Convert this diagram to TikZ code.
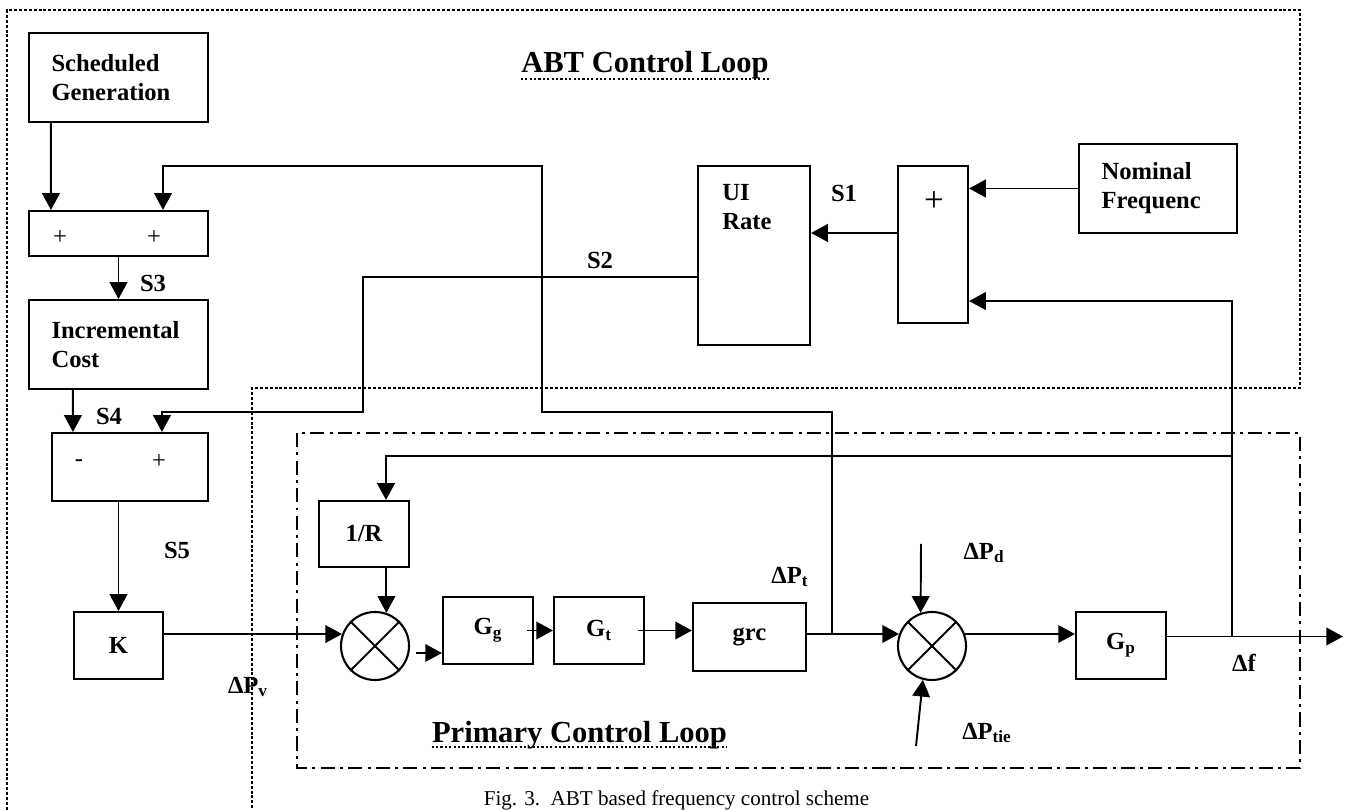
\documentclass[tikz,border=0pt]{standalone}
\usepackage{fontspec}
\setmainfont{Liberation Serif}
\usetikzlibrary{arrows.meta,calc}

\begin{document}
\begin{tikzpicture}[
        font=\bfseries\fontsize{14}{16.5}\selectfont,
        block/.style={draw=black, line width=1.2pt, inner sep=0pt, align=center},
        tblock/.style={block, align=left, inner xsep=0.45cm, text width=#1},
        sumj/.style={draw=black, circle, line width=1.2pt, minimum size=1.36cm, inner sep=0pt},
        arr/.style={line width=1.1pt, -{Triangle[length=9.5pt, width=10pt]}},
        wire/.style={line width=1.1pt},
        lbl/.style={inner sep=0pt},
        sign/.style={inner sep=0pt, font=\mdseries\fontsize{14}{16}\selectfont},
        abtzone/.style={line width=1.1pt, dash pattern=on 1.7pt off 1.1pt},
        primzone/.style={line width=1.1pt, dash pattern=on 8pt off 3pt on 1.7pt off 3pt},
        uline/.style={line width=1.2pt, dash pattern=on 1.2pt off 1.3pt},
    ]
    \useasboundingbox (0,0) rectangle (27.08,16.2);

    %====================== ZONES ======================
    \draw[abtzone] (0.14,0) -- (0.14,16.0) -- (26.0,16.0) -- (26.0,8.44) -- (5.04,8.44) -- (5.04,0);
    \draw[primzone] (5.94,7.54) rectangle (26.0,0.84);

    \node[lbl, anchor=base, font=\bfseries\fontsize{17.4}{20}\selectfont] (abt-title) at (12.9,14.74) {ABT Control Loop};
    \draw[uline] ([yshift=-0.12cm]abt-title.base west) -- ([yshift=-0.12cm]abt-title.base east);

    \node[lbl, anchor=base, font=\bfseries\fontsize{17.4}{20}\selectfont] (prim-title) at (11.59,1.34) {Primary Control Loop};
    \draw[uline] ([yshift=-0.08cm]prim-title.base west) -- ([yshift=-0.08cm]prim-title.base east);

    \node[lbl, anchor=base, font=\mdseries\fontsize{12}{14}\selectfont] (caption) at (13.53,0.08) {Fig. 3.\ \ ABT based frequency control scheme};

    %====================== ABT LOOP (left column) ======================
    \node[tblock=2.68cm, minimum height=1.78cm] (sched) at (2.37,14.65) {Scheduled\\Generation};
    \node[block, minimum width=3.58cm, minimum height=0.9cm] (sumA) at (2.37,11.53) {};
    \node[sign] at (1.2,11.44) {+};
    \node[sign] at (3.08,11.44) {+};
    \node[tblock=2.68cm, minimum height=1.78cm] (inc) at (2.37,9.31) {Incremental\\Cost};
    \node[block, minimum width=3.12cm, minimum height=1.36cm] (sumB) at (2.6,6.86) {};
    \node[sign] at (1.58,6.94) {-};
    \node[sign] at (3.18,6.96) {+};
    \node[block, minimum width=1.78cm, minimum height=1.34cm] (K) at (2.37,3.29) {K};

    \node[lbl] at (3.06,10.54) {S3};
    \node[lbl] at (2.18,7.88) {S4};
    \node[lbl] at (3.54,5.2) {S5};

    %====================== ABT LOOP (right side) ======================
    \node[block, minimum width=2.24cm, minimum height=3.58cm] (ui) at (15.08,11.09) {};
    \node[lbl, anchor=north west, align=left] at ($(ui.north west)+(0.5,-0.38)$) {UI\\Rate};
    \node[block, minimum width=1.4cm, minimum height=3.14cm] (plusB) at (18.66,11.31) {};
    \node[sign, font=\mdseries\fontsize{20}{22}\selectfont] at (18.68,12.16) {+};
    \node[tblock=2.26cm, minimum height=1.78cm] (nom) at (23.16,12.43) {Nominal\\Frequenc};

    \node[lbl] at (16.88,12.34) {S1};
    \node[lbl] at (12.0,11.0) {S2};

    %====================== PRIMARY LOOP ======================
    \node[block, minimum width=1.8cm, minimum height=1.32cm] (oneR) at (7.28,5.52) {1/R};
    \node[sumj] (sum1) at (7.5,3.28) {};
    \node[block, minimum width=1.8cm, minimum height=1.34cm] (Gg) at (9.76,3.59) {G\textsubscript{g}};
    \node[block, minimum width=1.8cm, minimum height=1.34cm] (Gt) at (11.98,3.59) {G\textsubscript{t}};
    \node[block, minimum width=2.26cm, minimum height=1.36cm] (grc) at (14.99,3.46) {grc};
    \node[sumj] (sum2) at (18.64,3.28) {};
    \node[block, minimum width=1.8cm, minimum height=1.34cm] (Gp) at (22.42,3.29) {G\textsubscript{p}};

    \foreach \s in {sum1, sum2} {
        \draw[line width=1.1pt] (\s.45) -- (\s.225);
        \draw[line width=1.1pt] (\s.135) -- (\s.315);
    }

    \node[lbl] at (4.96,2.46) {ΔP\textsubscript{v}};
    \node[lbl] at (15.8,4.66) {ΔP\textsubscript{t}};
    \node[lbl] at (19.68,5.14) {ΔP\textsubscript{d}};
    \node[lbl] at (19.74,1.54) {ΔP\textsubscript{tie}};
    \node[lbl] at (24.88,2.94) {Δf};

    %====================== CONNECTORS ======================
    \coordinate (jt) at (16.64,3.51);
    \coordinate (jf) at (24.64,3.47);
    \coordinate (fout) at (26.86,3.47);
    \coordinate (rtop) at (7.72,7.08);
    \coordinate (c1) at (10.84,7.96);
    \coordinate (c2) at (3.26,12.88);
    \coordinate (s2a) at (7.26,7.96);
    \coordinate (pd) at (18.42,5.32);
    \coordinate (ptie) at (18.32,1.28);
    \coordinate (g0) at ([yshift=-0.45cm]Gg.west);
    \coordinate (s1o) at ([xshift=0.12cm]sum1.east);
    \coordinate (p0) at ([yshift=0.23cm]plusB.west);
    \coordinate (u0) at ([yshift=-0.43cm]ui.west);

    \draw[arr] ([xshift=0.46cm]sched.south west) -- ([xshift=0.46cm]sumA.north west);
    \draw[arr] (sumA.south) -- (inc.north);
    \draw[arr] ([xshift=0.9cm]inc.south west) -- ([xshift=0.44cm]sumB.north west);
    \draw[arr] (K.north |- sumB.south) -- (K.north);
    \draw[arr] (K.east |- sum1.160) -- (sum1.160);
    \draw[arr] (oneR.south -| sum1.71) -- (sum1.71);
    \draw[arr] (s1o |- g0) -- (g0);
    \draw[arr] ([xshift=-0.14cm]Gg.east) -- (Gt.west);
    \draw[arr] ([xshift=-0.14cm]Gt.east) -- (Gt.east -| grc.west);
    \draw[arr] (grc.east |- sum2.160) -- (sum2.160);
    \draw[arr] (sum2.20) -- (sum2.20 -| Gp.west);
    \draw[arr] (pd) -- (sum2.109);
    \draw[arr] (ptie) -- (sum2.255);
    \draw[wire] (Gp.east |- jf) -- (jf);
    \draw[arr] (jf) -- (fout);

    \draw[arr] (jt) |- (c1) |- (c2) -- (c2 |- sumA.north);
    \draw[arr] (jf) |- (rtop) -- (oneR.north -| rtop);
    \draw[arr] (jf) |- ([yshift=0.46cm]plusB.south east);
    \draw[arr] (nom.west) -- (nom.west -| plusB.east);
    \draw[arr] (p0) -- (p0 -| ui.east);
    \draw[arr] (u0) -| (s2a) -| ([xshift=2.22cm]sumB.north west);

\end{tikzpicture}
\end{document}
